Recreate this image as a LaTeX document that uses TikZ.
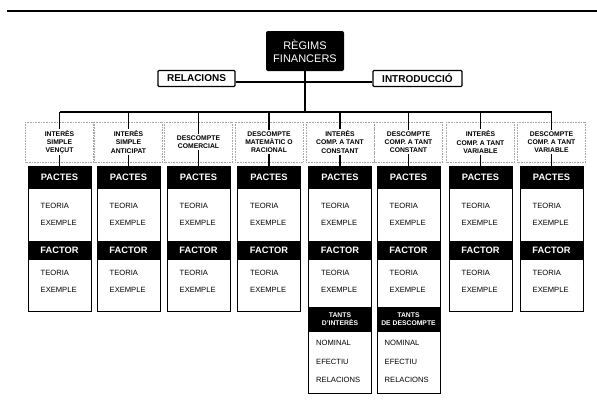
\documentclass[tikz,border=0pt]{standalone}
\usepackage{fontspec}
\setmainfont{Liberation Sans}
\begin{document}
\begin{tikzpicture}[x=1pt,y=-1pt,
  conn/.style={line width=1.3pt},
  frame/.style={line width=0.9pt},
  hdr/.style={fill=black, text=white, inner sep=0pt, minimum width=63pt,
    font=\bfseries\fontsize{9.3}{10}\selectfont},
  subhdr/.style={fill=black, text=white, inner sep=0pt, minimum width=63pt,
    minimum height=25pt, align=center, font=\bfseries\fontsize{6.8}{7.8}\selectfont},
  item/.style={anchor=west, inner sep=0pt, font=\fontsize{7.6}{8}\selectfont},
  lbl/.style={align=center, inner sep=1pt, font=\bfseries\fontsize{6.8}{8.3}\selectfont},
  lblbox/.style={draw=black!35, densely dotted, line width=0.6pt},
  tag/.style={draw, line width=1.4pt, fill=white, rounded corners=1pt,
    inner xsep=2pt, inner ysep=0pt, minimum height=16pt,
    font=\bfseries\fontsize{10}{11}\selectfont},
  title/.style={fill=black, text=white, rounded corners=2pt, minimum width=78pt,
    minimum height=40pt, align=center, inner sep=0pt,
    font=\fontsize{11}{13}\selectfont}
]
\useasboundingbox (0,0) rectangle (597,407);
% top rule
\coordinate (ruleL) at (7,10.5);
\coordinate (ruleR) at (597,10.5);
\draw[line width=2pt] (ruleL) -- (ruleR);
% title
\node[title] (reg) at (305,51) {RÈGIMS\\FINANCERS};
\node[tag, minimum width=77pt] (rel) at (196.5,78.5) {RELACIONS};
\node[tag, minimum width=89pt] (intro) at (417.5,78.5) {INTRODUCCIÓ};
\coordinate (hl) at (305,82);
\draw[conn] (rel.east|-hl) -- (intro.west|-hl);
\coordinate (bm) at (305,112);
\draw[conn] (reg) -- (bm);
\coordinate (bL) at (59.5,112);
\coordinate (bR) at (551.5,112);
\draw[conn] (bL) -- (bR);
% columns
\foreach \i/\cx/\bot/\t in {
  1/59.5/311/{INTERÈS\\SIMPLE\\VENÇUT},
  2/128.5/311/{INTERÈS\\SIMPLE\\ANTICIPAT},
  3/198.5/311/{DESCOMPTE\\COMERCIAL},
  4/269/311/{DESCOMPTE\\MATEMÀTIC O\\RACIONAL},
  5/340/393/{INTERÈS\\COMP. A TANT\\CONSTANT},
  6/408.5/393/{DESCOMPTE\\COMP. A TANT\\CONSTANT},
  7/480.5/311/{INTERÈS\\COMP. A TANT\\VARIABLE},
  8/551.5/311/{DESCOMPTE\\COMP. A TANT\\VARIABLE}}{
  \draw[lblbox] (\cx-34,122) rectangle (\cx+34,162);
  \coordinate (b\i) at (\cx,112);
  \node[lbl] (l\i) at (\cx,142) {\t};
  \node[hdr, minimum height=23pt] (p\i) at (\cx,177.5) {PACTES};
  \node[hdr, minimum height=19pt] (f\i) at (\cx,250.5) {FACTOR};
  \draw[conn] (b\i) -- (l\i);
  \draw[conn] (l\i) -- (p\i);
  \draw[frame] (\cx-31.5,166) rectangle (\cx+31.5,\bot);
  \node[item] (ta\i) at (\cx-19,206) {TEORIA};
  \node[item] (ea\i) at (\cx-19,223) {EXEMPLE};
  \node[item] (tb\i) at (\cx-19,273) {TEORIA};
  \node[item] (eb\i) at (\cx-19,290) {EXEMPLE};
}
% extra sections
\node[subhdr] (ti5) at (340,319.5) {TANTS\\D'INTERÈS};
\node[subhdr] (td6) at (408.5,319.5) {TANTS\\DE DESCOMPTE};
\foreach \j/\cx in {5/340,6/408.5}{
  \node[item] (n\j) at (\cx-24,343) {NOMINAL};
  \node[item] (e\j) at (\cx-24,362) {EFECTIU};
  \node[item] (r\j) at (\cx-24,380) {RELACIONS};
}
\end{tikzpicture}
\end{document}
